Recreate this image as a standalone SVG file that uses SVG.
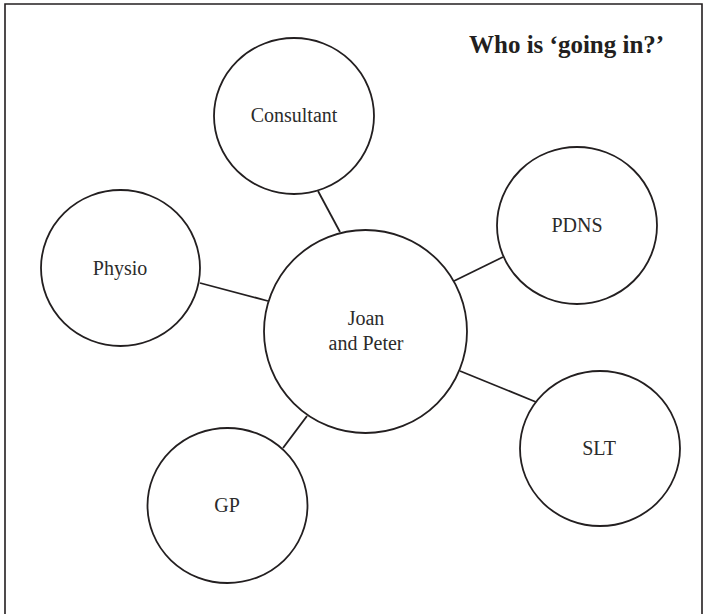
<svg xmlns="http://www.w3.org/2000/svg" width="708" height="614" viewBox="0 0 708 614">
  <style>
    .frame { fill: none; stroke: #231f20; stroke-width: 1.6; }
    .node { fill: #ffffff; stroke: #231f20; stroke-width: 1.8; }
    .link { stroke: #231f20; stroke-width: 1.8; fill: none; }
    .label { font-family: "Liberation Serif", "Times New Roman", serif; font-size: 20px; fill: #2b2b2b; text-anchor: middle; }
    .title { font-family: "Liberation Serif", "Times New Roman", serif; font-size: 25px; font-weight: bold; fill: #231f20; }
  </style>
  <rect width="708" height="614" fill="#ffffff"/>
  <path class="frame" d="M5,614 V4 H702 V614"/>

  <text class="title" x="469" y="53">Who is ‘going in?’</text>

  <!-- spokes from the centre hub to each visitor -->
  <g id="connectors">
    <line class="link" x1="318" y1="191" x2="340" y2="232"/>
    <line class="link" x1="454" y1="281" x2="503" y2="257"/>
    <line class="link" x1="200" y1="283" x2="268" y2="301"/>
    <line class="link" x1="460" y1="371" x2="536" y2="402"/>
    <line class="link" x1="283" y1="448" x2="307" y2="416"/>
  </g>

  <g id="hub">
    <ellipse class="node" cx="365.5" cy="331.5" rx="101.5" ry="101.5"/>
    <text class="label" x="366" y="325">Joan</text>
    <text class="label" x="366" y="350">and Peter</text>
  </g>

  <g id="consultant">
    <ellipse class="node" cx="294" cy="116" rx="80" ry="78"/>
    <text class="label" x="294" y="122">Consultant</text>
  </g>

  <g id="pdns">
    <ellipse class="node" cx="577" cy="225.5" rx="80" ry="78.5"/>
    <text class="label" x="577" y="232">PDNS</text>
  </g>

  <g id="physio">
    <ellipse class="node" cx="120.5" cy="268" rx="79.5" ry="78"/>
    <text class="label" x="120" y="275">Physio</text>
  </g>

  <g id="slt">
    <ellipse class="node" cx="600" cy="448.5" rx="80" ry="77.5"/>
    <text class="label" x="599" y="455">SLT</text>
  </g>

  <g id="gp">
    <ellipse class="node" cx="227.5" cy="505.5" rx="80" ry="77.5"/>
    <text class="label" x="227" y="512">GP</text>
  </g>
</svg>
